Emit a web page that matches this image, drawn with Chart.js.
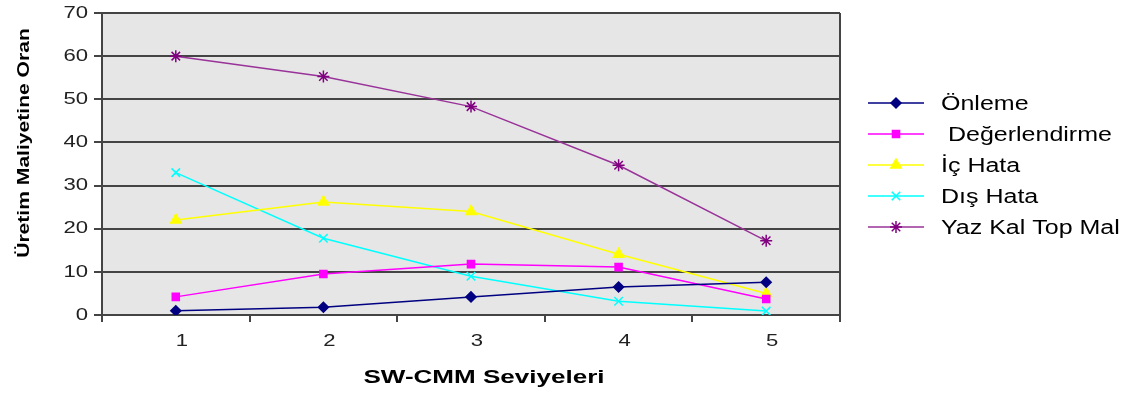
<!DOCTYPE html>
<html>
<head>
<meta charset="utf-8">
<script src="https://cdn.jsdelivr.net/npm/chart.js@4/dist/chart.umd.min.js"></script>
<style>
  body { margin: 0; background: #fff; }
  canvas { display: block; }
</style>
</head>
<body>
<canvas id="costChart" width="1133" height="394"></canvas>
<script>
// SW-CMM levels and cost shares
const levels = ['1', '2', '3', '4', '5'];
const onleme = [1, 1.8, 4.2, 6.5, 7.6];
const degerlendirme = [4.2, 9.5, 11.8, 11.1, 3.7];
const icHata = [22, 26.2, 24, 14.1, 5];
const disHata = [33, 17.8, 9, 3.2, 0.9];
const yazKalTopMal = [60, 55.3, 48.3, 34.7, 17.2];

const yTitle = 'Üretim Maliyetine Oran';
const xTitle = 'SW-CMM Seviyeleri';

const FONT = '"Liberation Sans", Arial, sans-serif';

const series = [
  { label: 'Önleme', data: onleme, color: '#000080', point: '#000080', style: 'rectRot', r: 5 },
  { label: ' Değerlendirme', data: degerlendirme, color: '#ff00ff', point: '#ff00ff', style: 'rect', r: 5 },
  { label: 'İç Hata', data: icHata, color: '#ffff00', point: '#ffff00', style: 'triangle', r: 6 },
  { label: 'Dış Hata', data: disHata, color: '#00ffff', point: '#00ffff', style: 'crossRot', r: 6 },
  { label: 'Yaz Kal Top Mal', data: yazKalTopMal, color: '#993399', point: '#800080', style: 'star', r: 6 },
];

// text drawn a bit wider than the font, like the original export
function scaledText(ctx, text, x, y, font, sx, align, baseline) {
  ctx.save();
  ctx.translate(x, y);
  ctx.scale(sx, 1);
  ctx.font = font;
  ctx.textAlign = align;
  ctx.textBaseline = baseline;
  ctx.fillText(text, 0, 0);
  ctx.restore();
}

const framePlugin = {
  id: 'frame',
  beforeDraw(chart) {
    const { ctx, chartArea: a } = chart;
    ctx.save();
    ctx.fillStyle = '#e6e6e6';
    ctx.fillRect(a.left, a.top, a.right - a.left, a.bottom - a.top);
    ctx.restore();
  },
  afterDraw(chart) {
    const { ctx, chartArea: a } = chart;
    const xs = chart.scales.x, ys = chart.scales.y;
    ctx.save();
    // right border of plot
    ctx.strokeStyle = '#444';
    ctx.lineWidth = 2;
    ctx.beginPath();
    ctx.moveTo(a.right, a.top);
    ctx.lineTo(a.right, a.bottom);
    ctx.stroke();

    // tick labels
    ctx.fillStyle = '#222';
    ys.ticks.forEach(t => {
      scaledText(ctx, String(t.value), a.left - 14, ys.getPixelForValue(t.value), '17px ' + FONT, 1.3, 'right', 'middle');
    });
    xs.ticks.forEach((t, i) => {
      scaledText(ctx, xs.getLabelForValue(t.value), xs.getPixelForTick(i) + 6, 341, '17px ' + FONT, 1.3, 'center', 'middle');
    });

    // axis titles
    ctx.fillStyle = '#000';
    scaledText(ctx, xTitle, (a.left + a.right) / 2 + 13, 383, 'bold 19px ' + FONT, 1.37, 'center', 'alphabetic');
    ctx.save();
    ctx.translate(29, 143);
    ctx.rotate(-Math.PI / 2);
    scaledText(ctx, yTitle, 0, 0, 'bold 17px ' + FONT, 1.24, 'center', 'alphabetic');
    ctx.restore();

    // legend: line + marker + label
    chart.data.datasets.forEach((ds, i) => {
      const y = 103 + i * 31;
      ctx.strokeStyle = ds.borderColor;
      ctx.lineWidth = 1.5;
      ctx.beginPath();
      ctx.moveTo(868, y);
      ctx.lineTo(924, y);
      ctx.stroke();
      ctx.fillStyle = ds.pointBackgroundColor;
      ctx.strokeStyle = ds.pointBorderColor;
      Chart.helpers.drawPoint(ctx, {
        pointStyle: ds.pointStyle, radius: ds.pointRadius, rotation: 0, borderWidth: 1.5
      }, 896, y);
      ctx.font = '20px ' + FONT;
      const w = ctx.measureText(ds.label).width * 1.25;
      const x = Math.min(941, 1124 - w);
      ctx.fillStyle = '#000';
      scaledText(ctx, ds.label, x, y + 1, '20px ' + FONT, 1.25, 'left', 'middle');
    });
    ctx.restore();
  }
};

new Chart(document.getElementById('costChart'), {
  type: 'line',
  data: {
    labels: levels,
    datasets: series.map(s => ({
      label: s.label,
      data: s.data,
      borderColor: s.color,
      backgroundColor: s.point,
      pointBackgroundColor: s.point,
      pointBorderColor: s.point,
      pointStyle: s.style,
      pointRadius: s.r,
      pointBorderWidth: 1.5,
      borderWidth: 1.5,
      tension: 0,
      fill: false,
    })),
  },
  options: {
    responsive: false,
    animation: false,
    layout: { padding: { left: 0, right: 293, top: 13, bottom: 0 } },
    plugins: {
      legend: { display: false },
      tooltip: { enabled: false },
    },
    scales: {
      x: {
        type: 'category',
        offset: true,
        grid: { offset: true, drawOnChartArea: false, color: '#444', lineWidth: 2, tickLength: 7 },
        border: { color: '#444', width: 2 },
        ticks: { display: false },
        afterFit: (scale) => { scale.height = 79; },
      },
      y: {
        min: 0,
        max: 70,
        ticks: { stepSize: 10, display: false },
        grid: { color: '#444', lineWidth: 2, tickLength: 8 },
        border: { color: '#444', width: 2 },
        afterFit: (scale) => { scale.width = 102; },
      },
    },
  },
  plugins: [framePlugin],
});
</script>
</body>
</html>
